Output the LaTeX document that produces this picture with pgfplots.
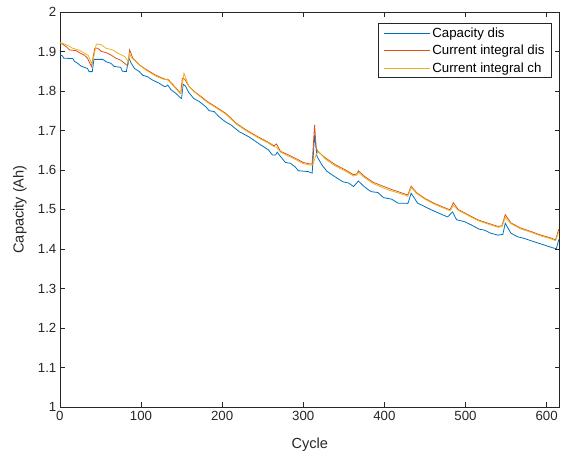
\documentclass[border=0pt]{standalone}
\usepackage{fontspec}
\setmainfont{Liberation Sans}
\usepackage{pgfplots}
\pgfplotsset{compat=1.18}
\definecolor{mblue}{RGB}{0,114,189}
\definecolor{morange}{RGB}{217,83,25}
\definecolor{myellow}{RGB}{237,177,32}
\definecolor{axgray}{RGB}{38,38,38}
\begin{document}
\begin{tikzpicture}
\begin{axis}[
  width=501bp, height=396bp, scale only axis,
  xmin=0, xmax=616, ymin=1, ymax=2,
  xtick={0,100,...,600},
  ytick={1,1.1,1.2,1.3,1.4,1.5,1.6,1.7,1.8,1.9,2},
  yticklabels={1,1.1,1.2,1.3,1.4,1.5,1.6,1.7,1.8,1.9,2},
  tick align=inside,
  major tick length=5bp,
  axis line style={axgray, line width=0.6bp},
  every tick/.style={axgray, line width=0.6bp},
  /pgf/number format/assume math mode=true,
  tick label style={font=\fontsize{13.3bp}{16bp}\selectfont, text=axgray},
  xticklabel style={yshift=-1bp},
  xlabel={Cycle}, ylabel={Capacity (Ah)},
  every axis x label/.style={at={(axis description cs:0.5,0)}, yshift=-38bp, anchor=center,
    font=\fontsize{14.6bp}{17bp}\selectfont, text=axgray},
  every axis y label/.style={at={(axis description cs:0,0.5)}, xshift=-40bp, rotate=90, anchor=center,
    font=\fontsize{14.6bp}{17bp}\selectfont, text=axgray},
  legend style={at={(0.984,0.972)}, anchor=north east, draw=axgray,
    fill=white, font=\fontsize{13.3bp}{16bp}\selectfont,
    inner xsep=5bp, inner ysep=1bp, row sep=0pt,
    nodes={inner ysep=3.2bp}},
  legend cell align=left,
  legend image code/.code={\draw[#1] (0bp,0bp) -- (46bp,0bp);},
  every axis plot/.append style={line width=0.8bp},
]
\addplot[color=mblue] coordinates {
(0,1.892) (3,1.889) (5,1.883) (16,1.882) (18,1.875) (22,1.870) (26,1.863) (30,1.860)
(34,1.857) (36,1.849) (40,1.849) (42,1.880) (53,1.880) (57,1.874) (63,1.870) (67,1.862)
(75,1.860) (77,1.850) (82,1.849) (85,1.884) (88,1.870) (92,1.857) (98,1.849) (102,1.840)
(108,1.836) (114,1.828) (122,1.820) (129,1.811) (131,1.812) (133,1.815) (137,1.803)
(143,1.794) (148,1.784) (150,1.781) (152,1.817) (155,1.812) (159,1.796) (165,1.781)
(172,1.773) (180,1.760) (184,1.750) (190,1.748) (196,1.735) (204,1.722) (211,1.714)
(221,1.697) (233,1.684) (245,1.667) (257,1.651) (262,1.638) (266,1.638) (268,1.645)
(272,1.634) (278,1.619) (284,1.617) (290,1.608) (294,1.598) (306,1.596) (311,1.592)
(314,1.689) (317,1.634) (323,1.613) (329,1.597) (339,1.583) (349,1.570) (356,1.567)
(362,1.558) (368,1.572) (374,1.560) (380,1.550) (384,1.545) (392,1.543) (399,1.530)
(409,1.526) (417,1.516) (427,1.516) (429,1.515) (433,1.541) (441,1.516) (450,1.507)
(458,1.499) (468,1.490) (478,1.481) (484,1.494) (489,1.474) (499,1.469) (507,1.461)
(517,1.450) (523,1.448) (531,1.440) (540,1.435) (546,1.437) (549,1.465) (556,1.440)
(564,1.431) (572,1.427) (585,1.418) (597,1.410) (609,1.402) (612,1.401) (615,1.424)
};
\addlegendentry{Capacity dis}
\addplot[color=morange] coordinates {
(0,1.920) (3,1.919) (8,1.912) (12,1.904) (20,1.902) (24,1.897) (30,1.891) (34,1.883)
(39,1.862) (43,1.908) (47,1.908) (51,1.900) (57,1.897) (63,1.891) (69,1.883) (75,1.878)
(82,1.866) (84,1.866) (86,1.904) (90,1.883) (98,1.866) (106,1.855) (118,1.840) (127,1.832)
(131,1.829) (133,1.830) (137,1.821) (143,1.808) (148,1.796) (149,1.794) (151,1.832)
(154,1.830) (159,1.812) (166,1.798) (174,1.786) (182,1.773) (192,1.760) (204,1.744)
(210,1.733) (217,1.719) (229,1.702) (245,1.683) (257,1.670) (264,1.661) (267,1.666)
(272,1.647) (280,1.640) (290,1.630) (300,1.619) (309,1.615) (311,1.616) (314,1.714)
(316,1.655) (318,1.647) (327,1.631) (339,1.614) (352,1.600) (362,1.588) (366,1.590)
(368,1.598) (376,1.583) (386,1.569) (397,1.560) (407,1.552) (417,1.545) (427,1.538)
(429,1.537) (433,1.559) (440,1.542) (450,1.528) (460,1.517) (470,1.508) (481,1.499)
(485,1.517) (491,1.500) (503,1.487) (515,1.474) (528,1.465) (540,1.457) (545,1.459)
(549,1.487) (556,1.466) (568,1.453) (581,1.444) (593,1.435) (605,1.428) (611,1.423)
(615,1.450)
};
\addlegendentry{Current integral dis}
\addplot[color=myellow] coordinates {
(0,1.922) (3,1.921) (10,1.915) (16,1.908) (24,1.903) (30,1.896) (35,1.890) (39,1.870)
(41,1.878) (45,1.919) (51,1.917) (57,1.908) (65,1.904) (72,1.895) (80,1.887) (84,1.875)
(86,1.895) (88,1.885) (98,1.866) (106,1.853) (118,1.838) (127,1.830) (133,1.828)
(137,1.819) (143,1.806) (148,1.794) (150,1.800) (153,1.845) (159,1.812) (166,1.797)
(174,1.784) (182,1.771) (192,1.758) (204,1.742) (210,1.731) (217,1.717) (229,1.700)
(245,1.681) (257,1.668) (264,1.659) (267,1.658) (272,1.645) (280,1.637) (290,1.627)
(300,1.616) (309,1.612) (312,1.614) (316,1.640) (319,1.647) (327,1.628) (339,1.611)
(352,1.597) (362,1.585) (366,1.587) (368,1.594) (376,1.580) (386,1.566) (397,1.556)
(407,1.548) (417,1.542) (427,1.535) (429,1.533) (433,1.556) (440,1.540) (450,1.526)
(460,1.515) (470,1.506) (481,1.497) (485,1.510) (491,1.498) (503,1.485) (515,1.472)
(528,1.463) (540,1.455) (545,1.456) (549,1.480) (556,1.464) (568,1.451) (581,1.442)
(593,1.433) (605,1.426) (611,1.421) (615,1.445)
};
\addlegendentry{Current integral ch}
\end{axis}
\path ([xshift=-60bp,yshift=-53bp]current axis.south west) rectangle ([yshift=12bp]current axis.north east);
\end{tikzpicture}
\end{document}
